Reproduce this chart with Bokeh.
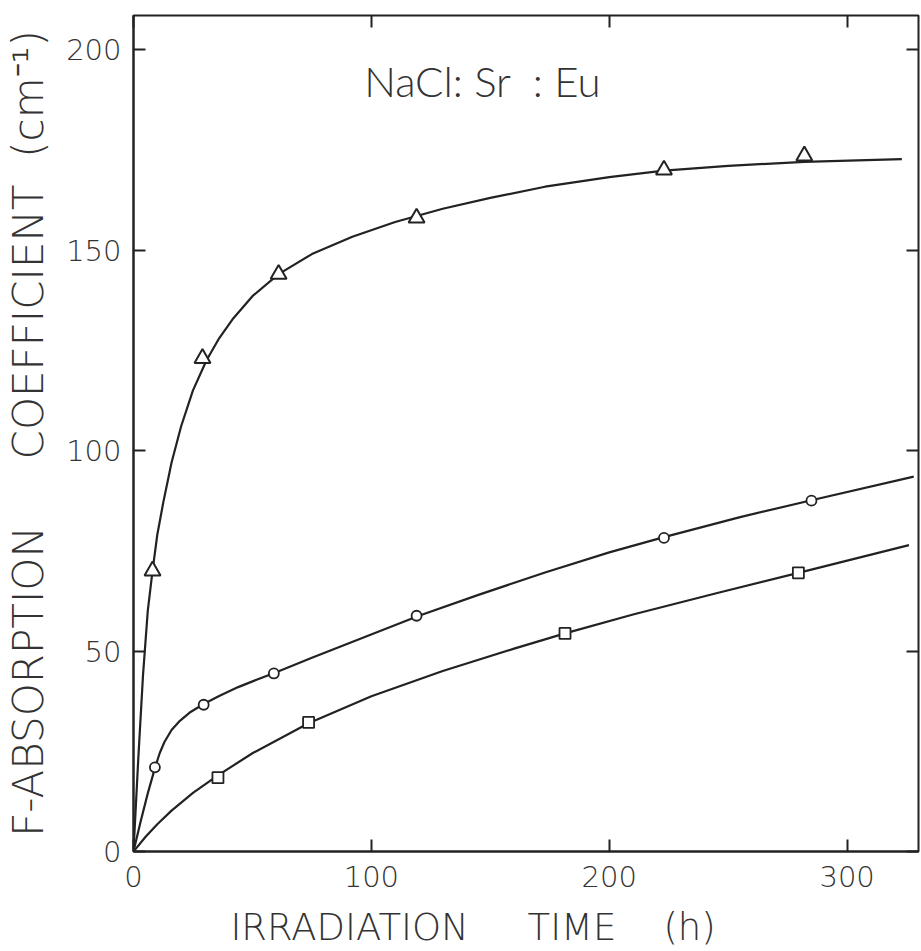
from bokeh.plotting import figure
from bokeh.models import Range1d, LinearAxis, FixedTicker, Label, CustomJSTickFormatter
from bokeh.embed import file_html
from bokeh.resources import INLINE

# Measured F-band absorption coefficients (cm^-1) vs irradiation time (h)
tri_t = [8, 29, 61, 119, 223, 282]
tri_k = [70, 123, 144, 158, 170, 173.5]
circ_t = [9, 29.5, 59, 119, 223, 285]
circ_k = [21, 36.6, 44.4, 58.8, 78.2, 87.5]
sq_t = [35.5, 73.6, 181.4, 279.5]
sq_k = [18.4, 32.2, 54.4, 69.5]

# Traced growth curves drawn through each series
tri_curve_t = [0, 2, 4, 6, 8, 10, 12.5, 16, 20, 25, 30.7, 36, 42, 50, 61, 75, 92,
               110, 130, 150, 173, 200, 223, 250, 282, 323]
tri_curve_k = [0, 23, 44, 60, 70, 79, 87, 97, 106, 115, 122.5, 128, 133, 138.5, 144,
               149, 153.3, 157, 160.3, 163, 165.8, 168.2, 169.8, 171, 172, 172.7]
circ_curve_t = [0, 3, 6, 9, 11, 13, 16, 19.5, 24, 29.5, 36, 44, 52, 60, 75, 90, 105,
                120, 145, 173, 200, 223, 255, 285, 328]
circ_curve_k = [0, 7.5, 14.5, 20.8, 24.5, 27.3, 30.3, 32.6, 34.8, 36.8, 38.8, 41, 42.9,
                44.7, 48.3, 51.8, 55.3, 58.8, 64, 69.6, 74.6, 78.4, 83.4, 87.6, 93.5]
sq_curve_t = [0, 5, 10, 16, 25, 35.5, 50, 73.6, 100, 130, 160, 181.4, 210, 245, 279.5, 326]
sq_curve_k = [0, 3.6, 6.8, 10.2, 14.6, 19, 24.5, 32, 38.7, 45, 50.6, 54.4, 59.1, 64.4,
              69.5, 76.4]

x_ticks = [0, 100, 200, 300]
y_ticks = [0, 50, 100, 150, 200]

FONT = "DejaVu Sans Light"
TITLE_FONT = "Lato Light"
INK = "#222222"
TEXT = "#333333"
SP = "\u00a0"

p = figure(
    width=921, height=951,
    x_range=Range1d(0, 330), y_range=Range1d(0, 208.5),
    output_backend="svg", toolbar_location=None,
    min_border_left=133, min_border_right=3,
    min_border_top=15, min_border_bottom=100,
    background_fill_color="white", border_fill_color="white",
)
p.grid.visible = False
p.outline_line_color = INK
p.outline_line_width = 2

for ax in (p.xaxis[0], p.yaxis[0]):
    ax.axis_line_color = INK
    ax.axis_line_width = 2
    ax.major_tick_in = 12
    ax.major_tick_out = 0
    ax.minor_tick_line_color = None
    ax.major_tick_line_color = INK
    ax.major_tick_line_width = 2
    ax.major_label_text_font = FONT
    ax.major_label_text_font_size = "29px"
    ax.major_label_text_color = TEXT
    ax.axis_label_text_font = FONT
    ax.axis_label_text_font_style = "normal"
    ax.axis_label_text_color = TEXT

p.xaxis[0].ticker = FixedTicker(ticks=x_ticks)
p.yaxis[0].ticker = FixedTicker(ticks=y_ticks)
p.xaxis[0].major_label_standoff = 14
p.yaxis[0].major_label_standoff = 12
# trailing spaces shift the label's visual centre left of the frame centre
p.xaxis[0].axis_label = ("IRRADIATION" + SP * 5 + "TIME" + SP * 4 + "(h)" + SP * 9)
p.xaxis[0].axis_label_text_font_size = "37px"
p.xaxis[0].axis_label_standoff = 16
p.yaxis[0].axis_label = "F-ABSORPTION" + SP * 5 + "COEFFICIENT" + SP * 2 + "(cm\u207b\u00b9)"
p.yaxis[0].axis_label_text_font_size = "42px"
p.yaxis[0].axis_label_standoff = 10

# Unlabelled tick marks on the top and right edges of the frame
blank = CustomJSTickFormatter(code="return ''")
top = LinearAxis(ticker=FixedTicker(ticks=x_ticks), formatter=blank)
right = LinearAxis(ticker=FixedTicker(ticks=y_ticks), formatter=blank)
for ax in (top, right):
    ax.axis_line_color = None
    ax.major_tick_in = 12
    ax.major_tick_out = 0
    ax.minor_tick_line_color = None
    ax.major_tick_line_color = INK
    ax.major_tick_line_width = 2
    ax.major_label_standoff = 0
    ax.major_label_text_font_size = "1px"
p.add_layout(top, "above")
p.add_layout(right, "right")

# Curves
for ct, ck in ((tri_curve_t, tri_curve_k), (circ_curve_t, circ_curve_k), (sq_curve_t, sq_curve_k)):
    p.line(ct, ck, line_color=INK, line_width=2.2, line_join="round")

# Data markers (open symbols)
p.scatter(tri_t, tri_k, marker="triangle", size=16, fill_color="white",
          line_color=INK, line_width=2)
p.scatter(circ_t, circ_k, marker="circle", size=10, fill_color="white",
          line_color=INK, line_width=1.8)
p.scatter(sq_t, sq_k, marker="square", size=11, fill_color="white",
          line_color=INK, line_width=1.8)

p.add_layout(Label(x=97, y=186, text="NaCl:" + SP + "Sr" + SP * 2 + ":" + SP + "Eu",
                   text_font=TITLE_FONT, text_font_size="42px", text_color=TEXT))

open("out.html", "w").write(file_html(p, INLINE))
